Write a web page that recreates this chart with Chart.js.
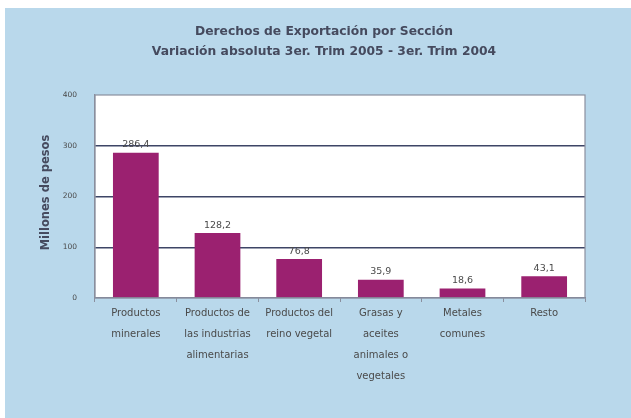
<!DOCTYPE html>
<html><head><meta charset="utf-8">
<script src="https://cdn.jsdelivr.net/npm/chart.js@4.4.1/dist/chart.umd.min.js"></script>
<style>html,body{margin:0;padding:0;background:#fff;}#w{width:631px;height:418px;}</style>
</head><body><div id="w"><canvas id="c" width="631" height="418"></canvas></div>
<script>
const titleLines = ["Derechos de Exportación por Sección", "Variación absoluta 3er. Trim 2005 - 3er. Trim 2004"];
const yAxisTitle = "Millones de pesos";
const categories = [
  ["Productos", "minerales"],
  ["Productos de", "las industrias", "alimentarias"],
  ["Productos del", "reino vegetal"],
  ["Grasas y", "aceites", "animales o", "vegetales"],
  ["Metales", "comunes"],
  ["Resto"]
];
const values = [286.4, 128.2, 76.8, 35.9, 18.6, 43.1];
const valueLabels = ["286,4", "128,2", "76,8", "35,9", "18,6", "43,1"];
const yTicks = [0, 100, 200, 300, 400];

const FONT = "'DejaVu Sans', Verdana, sans-serif";

const bgPlugin = {
  id: 'bg',
  beforeDraw(chart) {
    const ctx = chart.ctx, a = chart.chartArea;
    ctx.save();
    ctx.fillStyle = '#ffffff';
    ctx.fillRect(0, 0, chart.width, chart.height);
    ctx.fillStyle = '#b9d8eb';
    ctx.fillRect(5, 8, chart.width - 5, chart.height - 8);
    ctx.fillStyle = '#ffffff';
    ctx.fillRect(a.left, a.top, a.right - a.left, a.bottom - a.top);
    // titles
    ctx.fillStyle = '#454a5e';
    ctx.font = 'bold 12.3px ' + FONT;
    ctx.textAlign = 'center';
    ctx.textBaseline = 'middle';
    ctx.fillText(titleLines[0], 324, 32);
    ctx.fillText(titleLines[1], 324, 52);
    // y-axis title
    ctx.save();
    ctx.translate(46, (a.top + a.bottom) / 2 - 4);
    ctx.rotate(-Math.PI / 2);
    ctx.font = 'bold 11.5px ' + FONT;
    ctx.fillText(yAxisTitle, 0, 0);
    ctx.restore();
    ctx.restore();
  },
  afterDatasetsDraw(chart) {
    const ctx = chart.ctx, a = chart.chartArea;
    ctx.save();
    ctx.strokeStyle = '#8a8f9e';
    ctx.lineWidth = 1.2;
    ctx.strokeRect(a.left, a.top, a.right - a.left, a.bottom - a.top);
    const meta = chart.getDatasetMeta(0);
    ctx.fillStyle = '#4a4a4a';
    ctx.font = '9.5px ' + FONT;
    ctx.textAlign = 'center';
    ctx.textBaseline = 'bottom';
    meta.data.forEach((bar, i) => {
      ctx.fillText(valueLabels[i], bar.x, bar.y - 3);
    });
    ctx.restore();
  }
};

new Chart(document.getElementById('c'), {
  type: 'bar',
  data: {
    labels: categories,
    datasets: [{
      data: values,
      backgroundColor: '#9b2170',
      borderWidth: 0,
      categoryPercentage: 1.0,
      barPercentage: 0.56
    }]
  },
  options: {
    responsive: false,
    animation: false,
    events: [],
    layout: { padding: { top: 95, left: 0, right: 46, bottom: 0 } },
    plugins: { legend: { display: false }, tooltip: { enabled: false }, title: { display: false } },
    scales: {
      x: {
        afterFit(s) { s.height = 120; },
        grid: { display: true, drawOnChartArea: false, offset: true, tickLength: 4, color: '#8a8f9e' },
        border: { display: true, color: '#7d8296', width: 1.2 },
        ticks: {
          color: '#4a4a4a', font: { family: FONT, size: 10, lineHeight: 2.1 },
          maxRotation: 0, autoSkip: false, padding: 1
        }
      },
      y: {
        min: 0, max: 400,
        afterFit(s) { s.width = 95; },
        afterBuildTicks(s) { s.ticks = yTicks.map(v => ({ value: v })); },
        grid: {
          drawTicks: false,
          color: (c) => (c.tick && c.tick.value > 0 && c.tick.value < 400) ? '#3d4566' : 'rgba(0,0,0,0)',
          lineWidth: 1.5
        },
        border: { display: true, color: '#8a8f9e', width: 1.2 },
        ticks: { color: '#4a4a4a', font: { family: FONT, size: 7.5 }, padding: 18 }
      }
    }
  },
  plugins: [bgPlugin]
});
</script>
</body></html>
